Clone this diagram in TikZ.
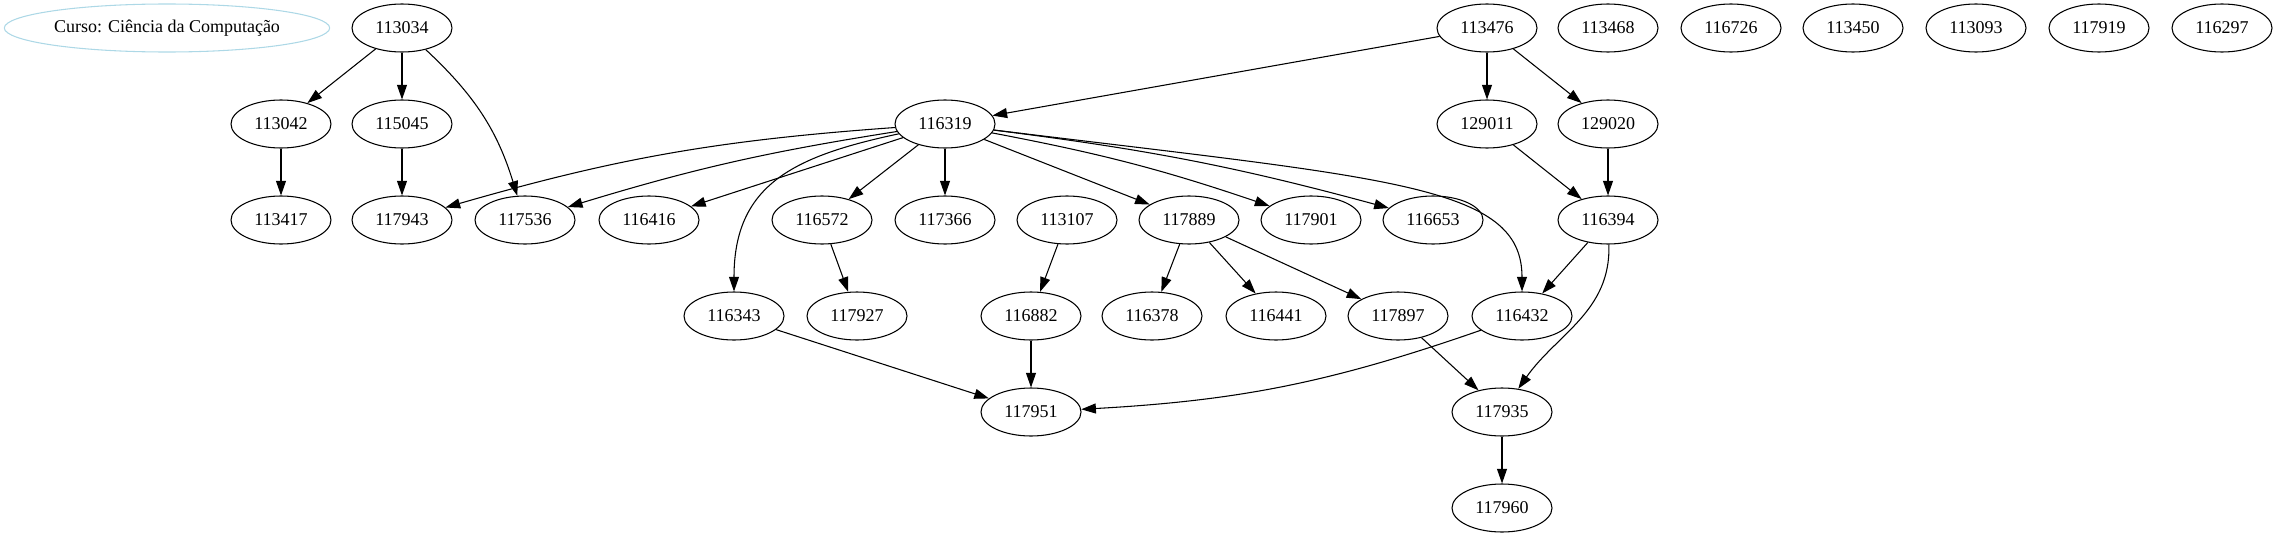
\documentclass[tikz,border=0pt]{standalone}
\usepackage{fontspec}
\setmainfont{Liberation Serif}
\usetikzlibrary{arrows.meta,shapes.geometric}
\definecolor{lightblue}{HTML}{ADD8E6}

\begin{document}
\begin{tikzpicture}[x=0.75pt, y=0.75pt, >={Triangle[length=11pt,width=7.5pt]},
  font=\fontsize{13.5}{16}\selectfont, line width=0.8pt,
  disc/.style={draw, ellipse, minimum width=75pt, minimum height=36pt, inner sep=0pt},
  crs/.style={draw=lightblue, ellipse, minimum width=244pt, minimum height=36pt, inner sep=0pt}]
\useasboundingbox (0,0) rectangle (2277,-539);
% course label and top rank
\node[crs] (curso) at (167,-28) {Curso: Ciência da Computação};
\node[disc] (d113034) at (402,-28) {113034};
\node[disc] (d113476) at (1487,-28) {113476};
\node[disc] (d113468) at (1608,-28) {113468};
\node[disc] (d116726) at (1731,-28) {116726};
\node[disc] (d113450) at (1853,-28) {113450};
\node[disc] (d113093) at (1976,-28) {113093};
\node[disc] (d117919) at (2099,-28) {117919};
\node[disc] (d116297) at (2222,-28) {116297};
% second rank
\node[disc] (d113042) at (281,-124) {113042};
\node[disc] (d115045) at (402,-124) {115045};
\node[disc] (d116319) at (945,-124) {116319};
\node[disc] (d129011) at (1487,-124) {129011};
\node[disc] (d129020) at (1608,-124) {129020};
% third rank
\node[disc] (d113417) at (281,-220) {113417};
\node[disc] (d117943) at (402,-220) {117943};
\node[disc] (d117536) at (525,-220) {117536};
\node[disc] (d116416) at (649,-220) {116416};
\node[disc] (d116572) at (822,-220) {116572};
\node[disc] (d117366) at (945,-220) {117366};
\node[disc] (d113107) at (1067,-220) {113107};
\node[disc] (d117889) at (1189,-220) {117889};
\node[disc] (d117901) at (1311,-220) {117901};
\node[disc] (d116653) at (1433,-220) {116653};
\node[disc] (d116394) at (1608,-220) {116394};
% fourth rank
\node[disc] (d116343) at (734,-316) {116343};
\node[disc] (d117927) at (857,-316) {117927};
\node[disc] (d116882) at (1031,-316) {116882};
\node[disc] (d116378) at (1152,-316) {116378};
\node[disc] (d116441) at (1276,-316) {116441};
\node[disc] (d117897) at (1398,-316) {117897};
\node[disc] (d116432) at (1522,-316) {116432};
% last ranks
\node[disc] (d117951) at (1031,-412) {117951};
\node[disc] (d117935) at (1502,-412) {117935};
\node[disc] (d117960) at (1502,-508) {117960};
% prerequisites
\draw[->] (d113034) -- (d113042);
\draw[->] (d113034) -- (d115045);
\draw[->] (d113034) to[bend left=15] (d117536);
\draw[->] (d113042) -- (d113417);
\draw[->] (d115045) -- (d117943);
\draw[->] (d113476) -- (d116319);
\draw[->] (d113476) -- (d129011);
\draw[->] (d113476) -- (d129020);
\draw[->] (d129011) -- (d116394);
\draw[->] (d129020) -- (d116394);
\draw[->] (d116319) to[bend right=6] (d117943);
\draw[->] (d116319) to[bend right=4] (d117536);
\draw[->] (d116319) -- (d116416);
\draw[->] (d116319) to[out=192, in=90, looseness=1.2] (d116343);
\draw[->] (d116319) -- (d116572);
\draw[->] (d116319) -- (d117366);
\draw[->] (d116319) -- (d117889);
\draw[->] (d116319) to[bend left=4] (d117901);
\draw[->] (d116319) to[bend left=4] (d116653);
\draw[->] (d116319) to[out=-7, in=90, out distance=300pt, in distance=80pt] (d116432);
\draw[->] (d116572) -- (d117927);
\draw[->] (d113107) -- (d116882);
\draw[->] (d117889) -- (d116378);
\draw[->] (d117889) -- (d116441);
\draw[->] (d117889) -- (d117897);
\draw[->] (d116394) -- (d116432);
\draw[->] (d116394) to[out=-88, in=55] (d117935);
\draw[->] (d116343) -- (d117951);
\draw[->] (d116882) -- (d117951);
\draw[->] (d116432) to[bend left=8] (d117951);
\draw[->] (d117897) -- (d117935);
\draw[->] (d117935) -- (d117960);
\end{tikzpicture}
\end{document}
